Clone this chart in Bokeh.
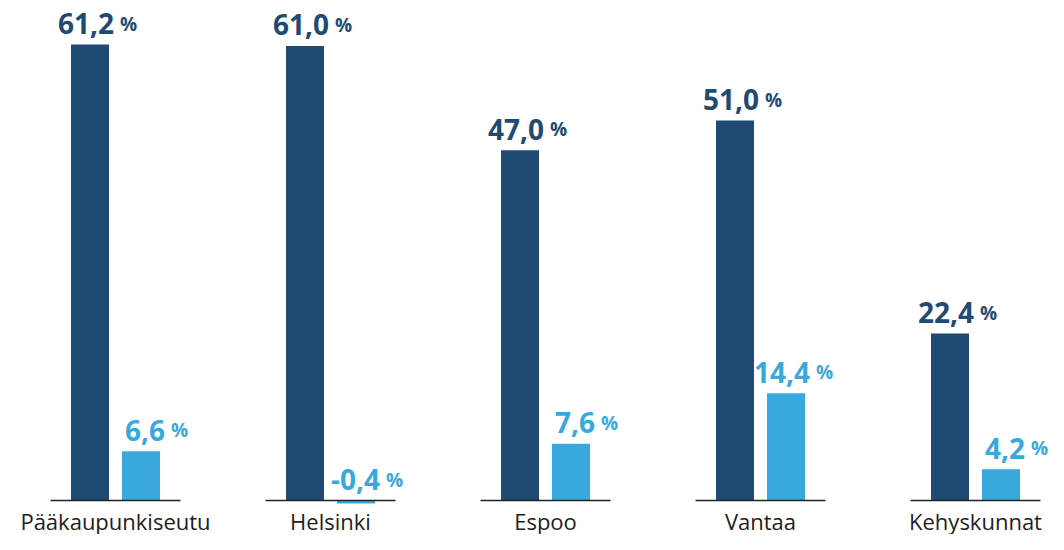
from bokeh.plotting import figure
from bokeh.models import ColumnDataSource, Range1d
from bokeh.core.properties import value
from bokeh.embed import file_html
from bokeh.resources import INLINE

# ---- data ----
categories = ["Pääkaupunkiseutu", "Helsinki", "Espoo", "Vantaa", "Kehyskunnat"]
series_dark = [61.2, 61.0, 47.0, 51.0, 22.4]
series_light = [6.6, -0.4, 7.6, 14.4, 4.2]

DARK = "#1f4a73"
LIGHT = "#39a9dd"
TEXT = "#1d1d1d"
FONT = "Open Sans"

W, H = 1048, 534
BASE_PX = 500                      # baseline position from top of figure
PX_PER_UNIT = (BASE_PX - 44) / 61.2
GROUP_PX = 215                     # group spacing px
FIRST_PX = 115                     # first group center px
TEXT_SHIFT = 8                     # empirical correction of text baseline (px)

def ypx(px):
    return px / PX_PER_UNIT

p = figure(width=W, height=H, output_backend="svg", toolbar_location=None,
           min_border=0, min_border_left=0, min_border_right=0,
           min_border_top=0, min_border_bottom=0,
           x_range=Range1d(-FIRST_PX / GROUP_PX, (W - FIRST_PX) / GROUP_PX),
           y_range=Range1d(-(H - BASE_PX) / PX_PER_UNIT, BASE_PX / PX_PER_UNIT))
p.axis.visible = False
p.grid.visible = False
p.outline_line_color = None
p.background_fill_color = "white"
p.border_fill_color = "white"

off = 25.5 / GROUP_PX
bw = 38 / GROUP_PX
idx = list(range(len(categories)))
xd = [i - off for i in idx]
xl = [i + off for i in idx]

p.vbar(x=xd, top=series_dark, bottom=0, width=bw, color=DARK, line_color=None)
p.vbar(x=xl, top=series_light, bottom=0, width=bw, color=LIGHT, line_color=None)

# baselines per group
half = 65 / GROUP_PX
p.segment(x0=[i - half for i in idx], x1=[i + half for i in idx],
          y0=[0] * len(idx), y1=[0] * len(idx), line_color="#222222", line_width=1.5)

def fmt(v):
    return f"{v:.1f}".replace(".", ",")

gap = ypx(13 + TEXT_SHIFT)
for xs, vals, col in ((xd, series_dark, DARK), (xl, series_light, LIGHT)):
    src = ColumnDataSource(dict(x=xs, y=[max(v, 0) + gap for v in vals],
                                t=[fmt(v) for v in vals], pc=["%"] * len(vals)))
    p.text(x="x", y="y", text="t", source=src, x_offset=24, text_align="right",
           text_baseline="alphabetic", text_color=col,
           text_font=value(FONT), text_font_style="bold", text_font_size="28px")
    p.text(x="x", y="y", text="pc", source=src, x_offset=30, text_align="left",
           text_baseline="alphabetic", text_color=col,
           text_font=value(FONT), text_font_style="bold", text_font_size="19px")

# category labels
csrc = ColumnDataSource(dict(x=idx, y=[-ypx(28 - TEXT_SHIFT)] * len(idx), t=categories))
p.text(x="x", y="y", text="t", source=csrc, text_align="center",
       text_baseline="alphabetic", text_color=TEXT,
       text_font=value(FONT), text_font_size="22px")

open("out.html", "w").write(file_html(p, INLINE))
